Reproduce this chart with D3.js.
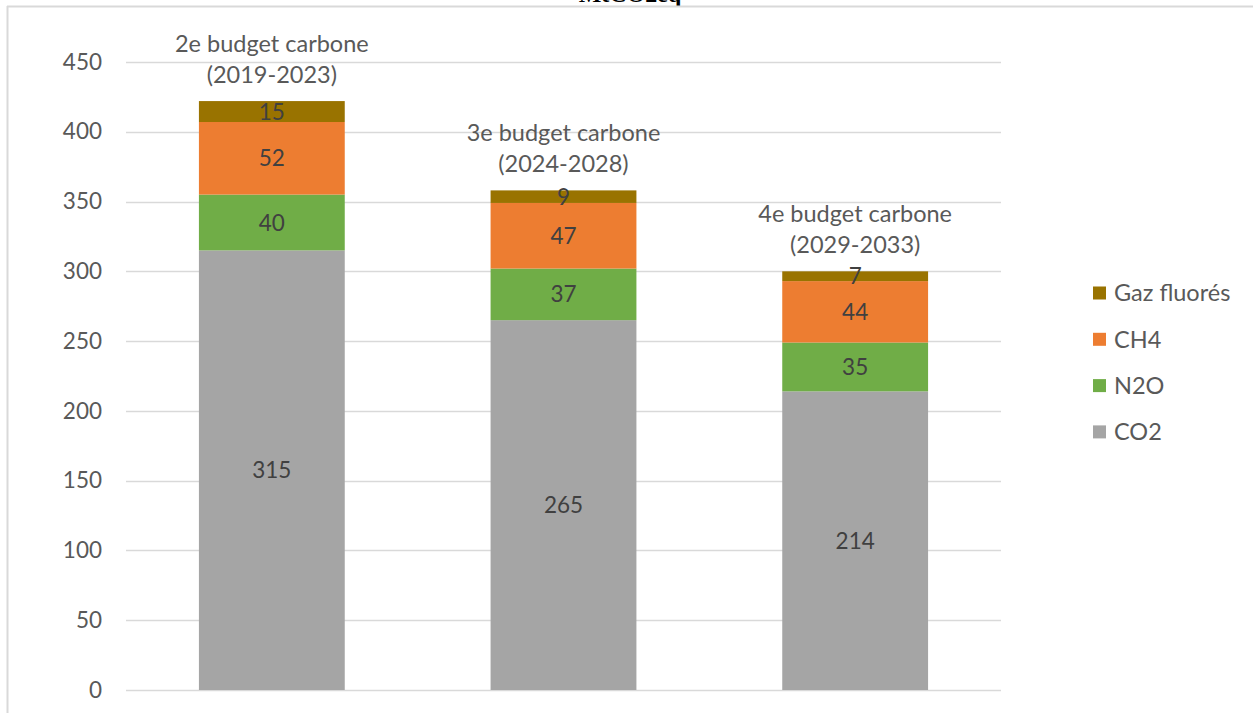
<!DOCTYPE html>
<html>
<head>
<meta charset="utf-8">
<script src="https://cdn.jsdelivr.net/npm/d3@7"></script>
<style>
  html, body { margin: 0; padding: 0; background: #fff; }
  svg { display: block; }
  text { font-family: Lato, "Open Sans", sans-serif; }
</style>
</head>
<body>
<div id="chart"></div>
<script>
// Budget periods (x categories)
const categories = ['2e budget carbone', '3e budget carbone', '4e budget carbone'];
const periods = ['(2019-2023)', '(2024-2028)', '(2029-2033)'];

// Series values, stacked bottom to top
const seriesNames = ['CO2', 'N2O', 'CH4', 'Gaz fluorés'];
const co2 = [315, 265, 214];
const n2o = [40, 37, 35];
const ch4 = [52, 47, 44];
const gazFluores = [15, 9, 7];

const yTicks = [0, 50, 100, 150, 200, 250, 300, 350, 400, 450];

const colors = {
  'CO2': '#a5a5a5',
  'N2O': '#70ad47',
  'CH4': '#ed7d31',
  'Gaz fluorés': '#997300'
};

const width = 1253;
const height = 713;

const svg = d3.select('#chart')
  .append('svg')
  .attr('width', width)
  .attr('height', height);

// Build rows for the stack
const rows = categories.map((c, i) => ({
  cat: c,
  'CO2': co2[i],
  'N2O': n2o[i],
  'CH4': ch4[i],
  'Gaz fluorés': gazFluores[i]
}));

const x = d3.scaleBand()
  .domain(categories)
  .range([126, 1001])
  .paddingInner(0.5)
  .paddingOuter(0.25);

const y = d3.scaleLinear()
  .domain([0, 450])
  .range([690, 62]);

// Title (cut off at the top in the original)
svg.append('text')
  .attr('x', 630)
  .attr('y', 2)
  .attr('text-anchor', 'middle')
  .attr('font-weight', 'bold')
  .attr('font-size', 24)
  .attr('fill', '#000')
  .style('font-family', '"Liberation Serif", serif')
  .text('MtCO2eq');

// Outer frame (top and left edges visible)
svg.append('line')
  .attr('x1', 7).attr('x2', width)
  .attr('y1', 6.5).attr('y2', 6.5)
  .attr('stroke', '#d9d9d9')
  .attr('stroke-width', 2);
svg.append('line')
  .attr('x1', 7.5).attr('x2', 7.5)
  .attr('y1', 6).attr('y2', height)
  .attr('stroke', '#d9d9d9')
  .attr('stroke-width', 2);

// Gridlines
svg.append('g')
  .selectAll('line')
  .data(yTicks)
  .enter()
  .append('line')
  .attr('x1', 126)
  .attr('x2', 1001)
  .attr('y1', d => Math.round(y(d)) + 0.5)
  .attr('y2', d => Math.round(y(d)) + 0.5)
  .attr('stroke', '#d9d9d9')
  .attr('stroke-width', 1.5);

// Y axis labels
const yAxis = d3.axisLeft(y)
  .tickValues(yTicks)
  .tickSize(0)
  .tickPadding(0);

const yAxisG = svg.append('g')
  .attr('transform', 'translate(102,0)')
  .call(yAxis);
yAxisG.select('.domain').remove();
yAxisG.selectAll('text')
  .attr('font-size', 22.5)
  .attr('fill', '#595959')
  .style('font-family', 'Lato, "Open Sans", sans-serif');

// Stacked bars
const stack = d3.stack().keys(seriesNames);
const stacked = stack(rows);

const layers = svg.append('g')
  .selectAll('g')
  .data(stacked)
  .enter()
  .append('g')
  .attr('fill', d => colors[d.key]);

layers.selectAll('rect')
  .data(d => d)
  .enter()
  .append('rect')
  .attr('x', d => x(d.data.cat))
  .attr('y', d => y(d[1]))
  .attr('width', x.bandwidth())
  .attr('height', d => y(d[0]) - y(d[1]));

// Value labels inside segments
layers.selectAll('text')
  .data(d => d.map(v => ({ v, key: d.key })))
  .enter()
  .append('text')
  .attr('x', d => x(d.v.data.cat) + x.bandwidth() / 2)
  .attr('y', d => (y(d.v[0]) + y(d.v[1])) / 2)
  .attr('dy', '0.36em')
  .attr('text-anchor', 'middle')
  .attr('font-size', 22.5)
  .attr('fill', '#404040')
  .text(d => d.v.data[d.key]);

// Category labels above each bar
const totals = rows.map(r => seriesNames.reduce((s, k) => s + r[k], 0));
const catLabels = svg.append('g')
  .selectAll('text')
  .data(categories)
  .enter()
  .append('text')
  .attr('text-anchor', 'middle')
  .attr('font-size', 23.5)
  .attr('fill', '#595959')
  .attr('x', d => x(d) + x.bandwidth() / 2)
  .attr('y', (d, i) => y(totals[i]) - 58)
  .attr('dy', '0.36em');

catLabels.append('tspan')
  .text(d => d);
catLabels.append('tspan')
  .attr('x', d => x(d) + x.bandwidth() / 2)
  .attr('dy', 31)
  .text((d, i) => periods[i]);

// Legend (top item is last series)
const legendItems = seriesNames.slice().reverse();
const legend = svg.append('g')
  .selectAll('g')
  .data(legendItems)
  .enter()
  .append('g')
  .attr('transform', (d, i) => `translate(1093,${293 + i * 46.3})`);

legend.append('rect')
  .attr('x', 0)
  .attr('y', -6.5)
  .attr('width', 13)
  .attr('height', 13)
  .attr('fill', d => colors[d]);

legend.append('text')
  .attr('x', 21)
  .attr('y', 0)
  .attr('dy', '0.36em')
  .attr('font-size', 23.5)
  .attr('fill', '#595959')
  .text(d => d);
</script>
</body>
</html>
